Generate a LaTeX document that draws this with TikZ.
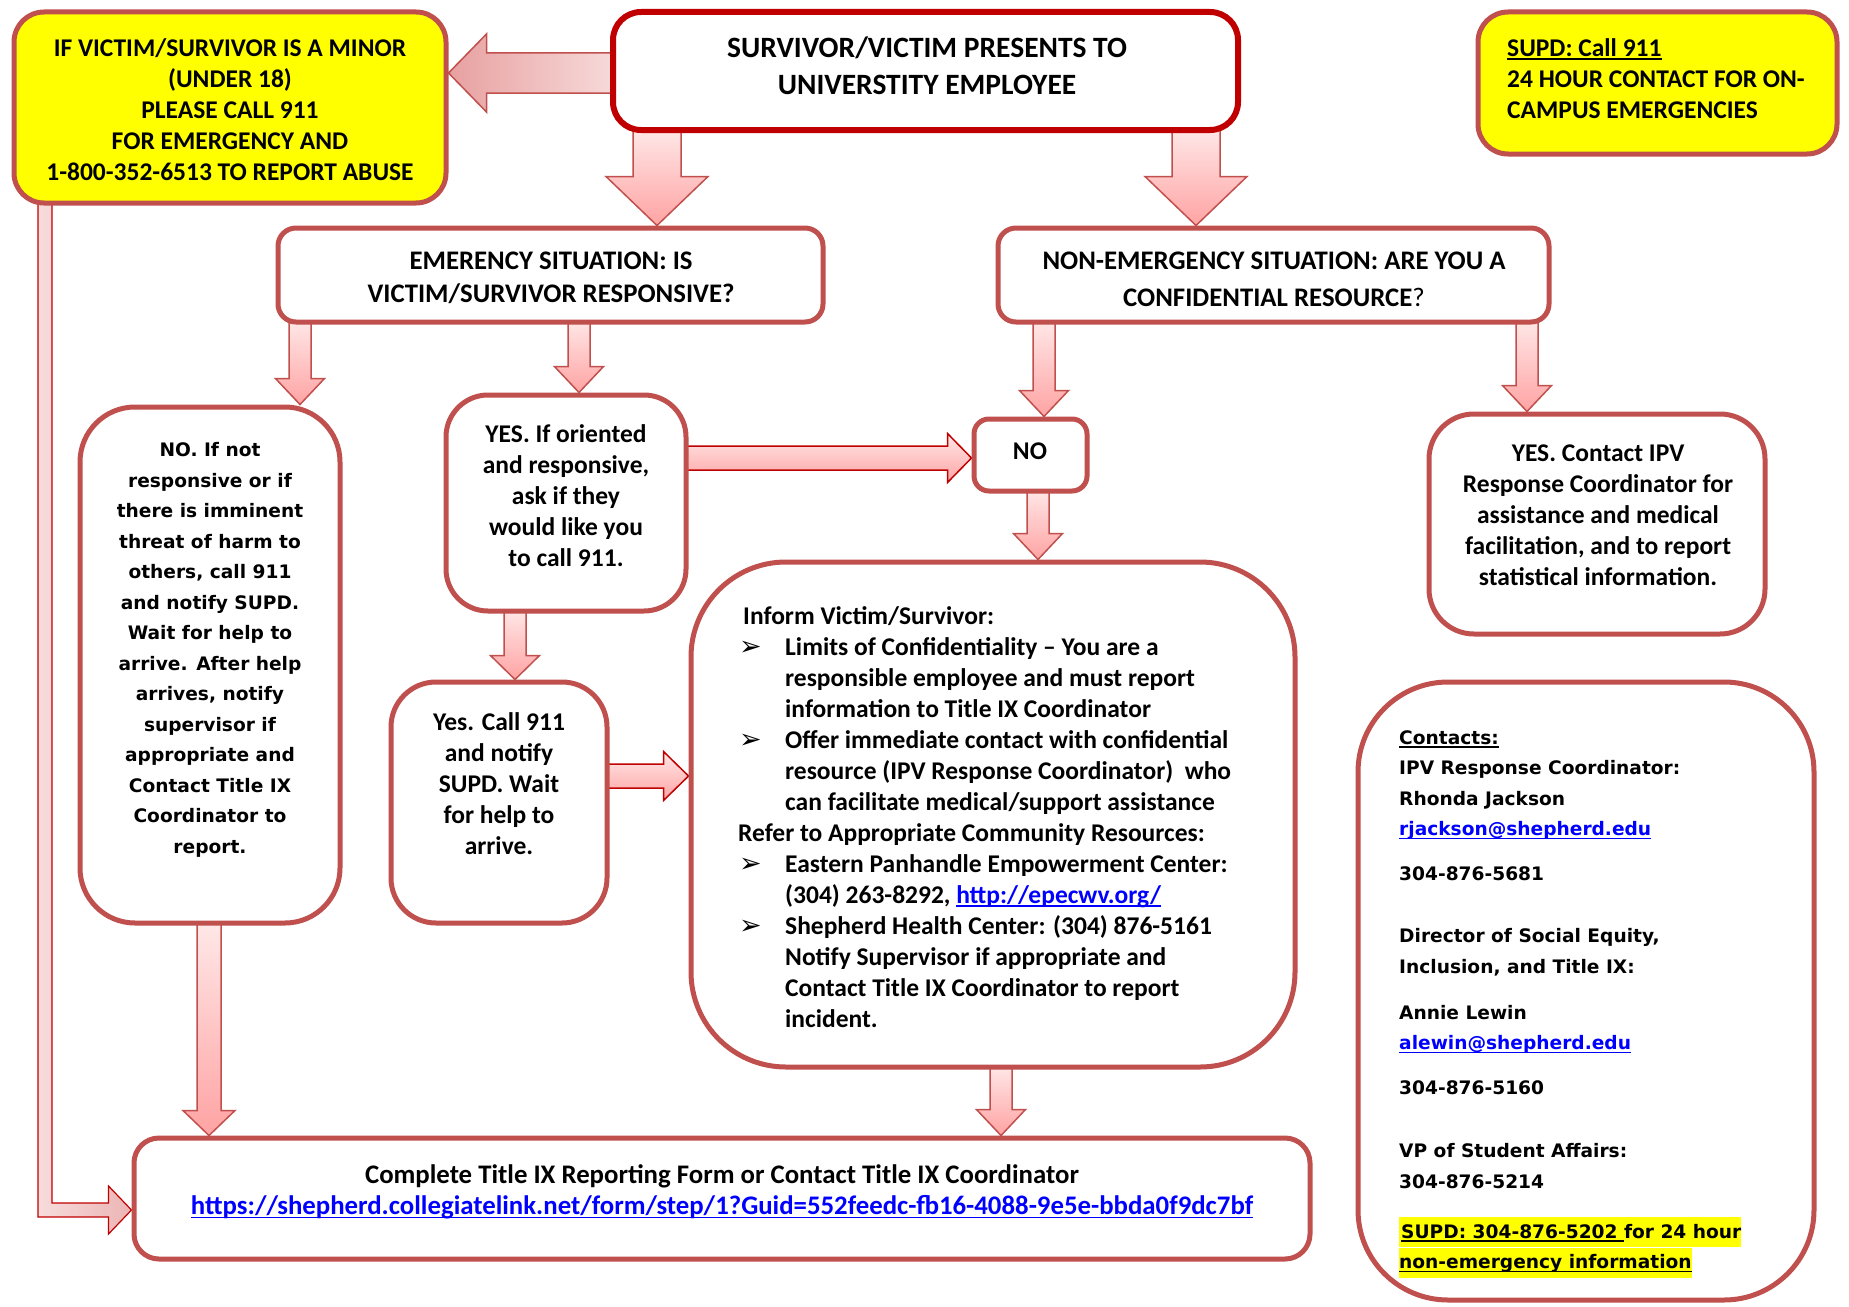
\documentclass[tikz,border=0pt]{standalone}
\usepackage{fontspec}
\setmainfont{Carlito}
\newfontfamily\verd{DejaVu Sans}
\usetikzlibrary{calc}
\definecolor{boxred}{HTML}{C0504D}
\definecolor{darkred}{HTML}{C00000}
\definecolor{arrtop}{HTML}{FFE8E8}
\definecolor{arrbot}{HTML}{FFA3A3}
\definecolor{linkblue}{HTML}{0000FF}
\definecolor{hlyellow}{HTML}{FFFF00}
\definecolor{hdark}{HTML}{E8A0A0}
\definecolor{hlight}{HTML}{F7DADA}
\definecolor{elbL}{HTML}{F7DCDC}
\definecolor{elbR}{HTML}{ECB4B4}
\pgfdeclarelayer{bg}
\pgfsetlayers{bg,main}
\newsavebox\ulbox
\newcommand\ulx[1]{\sbox\ulbox{#1}\rlap{\rule[-3.5pt]{\wd\ulbox}{1.6pt}}\usebox\ulbox}
\newcommand\hlx[1]{{\setlength\fboxsep{0pt}\colorbox{hlyellow}{\rule[-9pt]{0pt}{30pt}#1}}}
\newcommand\bulx{\makebox[47pt][l]{\hspace*{1pt}{\verd\mdseries\fontsize{27}{31}\selectfont ➢}}}
\newcommand\indx{\hspace*{47pt}}
% vertical block arrow: [style]{x coord}{from}{to}{shaft hw}{head hw}{head len}
\newcommand\varrow[7][varr]{%
  \path[#1] let \p1=(#2 |- #3.south), \p2=(#2 |- #4.north) in
   (\x1-#5,\y1+5pt) -- (\x1+#5,\y1+5pt) -- (\x1+#5,\y2+#7) -- (\x1+#6,\y2+#7) -- (\x2,\y2)
   -- (\x1-#6,\y2+#7) -- (\x1-#5,\y2+#7) -- cycle;}
% horizontal block arrow to the right: [style]{y coord}{from}{to}{shaft hh}{head hh}{head len}
\newcommand\harrow[7][harr]{%
  \path[#1] let \p1=(#3.east |- #2), \p2=(#4.west |- #2) in
   (\x1-5pt,\y1+#5) -- (\x2-#7,\y1+#5) -- (\x2-#7,\y1+#6) -- (\x2,\y2) -- (\x2-#7,\y1-#6)
   -- (\x2-#7,\y1-#5) -- (\x1-5pt,\y1-#5) -- cycle;}
\begin{document}
\begin{tikzpicture}[x=1pt,y=-1pt,
  rbox/.style={draw=boxred, line width=5pt, fill=white, rounded corners=#1, inner sep=0pt, rectangle},
  rbox/.default=20pt,
  txt/.style={inner sep=0pt, align=center, font=\bfseries\fontsize{25.5}{31}\selectfont},
  vtxt/.style={inner sep=0pt, font=\verd\bfseries\fontsize{18.6}{30.5}\selectfont},
  varr/.style={draw=boxred, line width=1.5pt, top color=arrtop, bottom color=arrbot, line join=miter},
  harr/.style={draw=darkred, line width=1.5pt, top color=arrtop, bottom color=arrbot, line join=miter},
  larr/.style={draw=boxred, line width=1.5pt, left color=hdark, right color=hlight, line join=miter},
  earr/.style={draw=darkred, line width=1.2pt, left color=elbL, right color=elbR, line join=miter}]
\useasboundingbox (0,0) rectangle (1849,1306);
\begin{pgfonlayer}{bg}
\fill[white] (0,0) rectangle (1849,1306);
\end{pgfonlayer}

% ---------- boxes ----------
\node[rbox=30pt, fill=hlyellow, minimum width=432pt, minimum height=191pt] (minor) at (230,107.5) {};
\node[rbox=28pt, draw=darkred, line width=6pt, minimum width=625pt, minimum height=118pt] (top) at (925.5,71) {};
\node[rbox=30pt, fill=hlyellow, minimum width=359pt, minimum height=142pt] (supd) at (1657.5,83) {};
\node[rbox=18pt, minimum width=545pt, minimum height=94pt] (emerg) at (550.5,275) {};
\node[rbox=18pt, minimum width=551pt, minimum height=94pt] (nonemerg) at (1273.5,275) {};
\node[rbox=55pt, minimum width=260pt, minimum height=516pt] (noleft) at (210,665) {};
\node[rbox=42pt, minimum width=240pt, minimum height=216pt] (yesor) at (566,503) {};
\node[rbox=15pt, minimum width=113pt, minimum height=72pt] (nosmall) at (1030.5,455) {};
\node[rbox=45pt, minimum width=336pt, minimum height=220pt] (yesipv) at (1597,524) {};
\node[rbox=45pt, minimum width=216pt, minimum height=241pt] (yescall) at (499,802.5) {};
\node[rbox=95pt, minimum width=604pt, minimum height=505pt] (inform) at (993,814.5) {};
\node[rbox=90pt, minimum width=456pt, minimum height=618pt] (contacts) at (1586,991) {};
\node[rbox=25pt, minimum width=1176pt, minimum height=121pt] (bottom) at (722,1198.5) {};

% ---------- texts ----------
\node[txt] (minorT) at (230,110) {IF VICTIM/SURVIVOR IS A MINOR\\(UNDER 18)\\PLEASE CALL 911\\FOR EMERGENCY AND\\1-800-352-6513 TO REPORT ABUSE};
\node[txt, font=\bfseries\fontsize{29.5}{37}\selectfont] (topT) at (927,65.5) {SURVIVOR/VICTIM PRESENTS TO\\UNIVERSTITY EMPLOYEE};
\node[txt, align=left, anchor=west] (supdT) at (1507,78.5) {\ulx{SUPD: Call 911}\\24 HOUR CONTACT FOR ON-\\CAMPUS EMERGENCIES};
\node[txt, font=\bfseries\fontsize{26.8}{33}\selectfont] (emergT) at (551,277.5) {EMERENCY SITUATION: IS\\VICTIM/SURVIVOR RESPONSIVE?};
\node[txt, font=\bfseries\fontsize{26.8}{37}\selectfont] (nonT) at (1274,279.5) {NON-EMERGENCY SITUATION: ARE YOU A\\CONFIDENTIAL RESOURCE{\mdseries ?}};
\node[vtxt, align=center] (noleftT) at (210,650) {NO. If not\\responsive or if\\there is imminent\\threat of harm to\\others, call 911\\and notify SUPD.\\Wait for help to\\arrive. After help\\arrives, notify\\supervisor if\\appropriate and\\Contact Title IX\\Coordinator to\\report.};
\node[txt] (yesorT) at (566,496) {YES. If oriented\\and responsive,\\ask if they\\would like you\\to call 911.};
\node[txt] (nosmallT) at (1030,451) {NO};
\node[txt] (yesipvT) at (1598,515) {YES. Contact IPV\\Response Coordinator for\\assistance and medical\\facilitation, and to report\\statistical information.};
\node[txt] (yescallT) at (499,783.5) {Yes. Call 911\\and notify\\SUPD. Wait\\for help to\\arrive.};
\node[txt, align=left, anchor=west] (informT) at (738,817) {\hspace*{5pt}Inform Victim/Survivor:\\
\bulx Limits of Confidentiality – You are a\\
\indx responsible employee and must report\\
\indx information to Title IX Coordinator\\
\bulx Offer immediate contact with confidential\\
\indx resource (IPV Response Coordinator)\ \ who\\
\indx can facilitate medical/support assistance\\
Refer to Appropriate Community Resources:\\
\bulx Eastern Panhandle Empowerment Center:\\
\indx (304) 263-8292, {\color{linkblue}\ulx{http://epecwv.org/}}\\
\bulx Shepherd Health Center: (304) 876-5161\\
\indx Notify Supervisor if appropriate and\\
\indx Contact Title IX Coordinator to report\\
\indx incident.};
\node[txt, font=\bfseries\fontsize{26.8}{31}\selectfont] (bottomT) at (722,1192) {Complete Title IX Reporting Form or Contact Title IX Coordinator\\{\color{linkblue}\ulx{https://shepherd.collegiatelink.net/form/step/1?Guid=552feedc-fb16-4088-9e5e-bbda0f9dc7bf}}};
\node[vtxt, align=left, anchor=west] (contactsT) at (1399,1004) {\ulx{Contacts:}\\
IPV Response Coordinator:\\
Rhonda Jackson\\
{\color{linkblue}\ulx{rjackson@shepherd.edu}}\\[14.5pt]
304-876-5681\\[31.5pt]
Director of Social Equity,\\
Inclusion, and Title IX:\\[15.5pt]
Annie Lewin\\
{\color{linkblue}\ulx{alewin@shepherd.edu}}\\[14.5pt]
304-876-5160\\[32.5pt]
VP of Student Affairs:\\
304-876-5214\\[19.5pt]
\hlx{\hspace*{2pt}\ulx{SUPD: 304-876-5202 }for 24 hour}\\
\hlx{\ulx{non-emergency information}}};

% ---------- connectors ----------
\coordinate (xA1) at (657,0);
\coordinate (xA2) at (1196,0);
\coordinate (xA3) at (300,0);
\coordinate (xA4) at (579,0);
\coordinate (xA5) at (1044,0);
\coordinate (xA6) at (1527,0);
\coordinate (xA7) at (1038,0);
\coordinate (xA8) at (515,0);
\coordinate (xA9) at (209,0);
\coordinate (xA10) at (1001,0);
\coordinate (yH1) at (0,73);
\coordinate (yH2) at (0,458);
\coordinate (yH3) at (0,776);
\coordinate (xE) at (45,0);
\coordinate (yE) at (0,1210);

\begin{pgfonlayer}{bg}
\varrow{xA1}{top}{emerg}{24pt}{51pt}{49pt}
\varrow{xA2}{top}{nonemerg}{24pt}{51pt}{49pt}
\varrow{xA3}{emerg}{noleft}{11pt}{24.5pt}{26pt}
\varrow{xA4}{emerg}{yesor}{11pt}{24.5pt}{26pt}
\varrow{xA5}{nonemerg}{nosmall}{11pt}{24.5pt}{26pt}
\varrow{xA6}{nonemerg}{yesipv}{11pt}{24.5pt}{26pt}
\varrow{xA7}{nosmall}{inform}{11pt}{24.5pt}{26pt}
\varrow{xA8}{yesor}{yescall}{11pt}{24.5pt}{24pt}
\varrow{xA9}{noleft}{bottom}{12pt}{26pt}{25pt}
\varrow{xA10}{inform}{bottom}{11pt}{24.5pt}{26pt}
\harrow{yH2}{yesor}{nosmall}{12pt}{24.5pt}{24pt}
\harrow{yH3}{yescall}{inform}{12pt}{24.5pt}{25pt}
\path[larr] let \p1=(top.west |- yH1), \p2=(minor.east |- yH1) in
  (\x1+5pt,\y1+20pt) -- (\x2+38pt,\y1+20pt) -- (\x2+38pt,\y1+39pt) -- (\x2,\y2)
  -- (\x2+38pt,\y1-39pt) -- (\x2+38pt,\y1-20pt) -- (\x1+5pt,\y1-20pt) -- cycle;
\path[earr] let \p1=(xE |- minor.south), \p2=(bottom.west |- yE) in
  (\x1-7pt,\y1+5pt) -- (\x1+7pt,\y1+5pt) -- (\x1+7pt,\y2+7pt) -- (\x2-23pt,\y2+7pt)
  -- (\x2-23pt,\y2+24pt) -- (\x2,\y2) -- (\x2-23pt,\y2-24pt) -- (\x2-23pt,\y2-7pt)
  -- (\x1-7pt,\y2-7pt) -- cycle;
\end{pgfonlayer}
\end{tikzpicture}
\end{document}
